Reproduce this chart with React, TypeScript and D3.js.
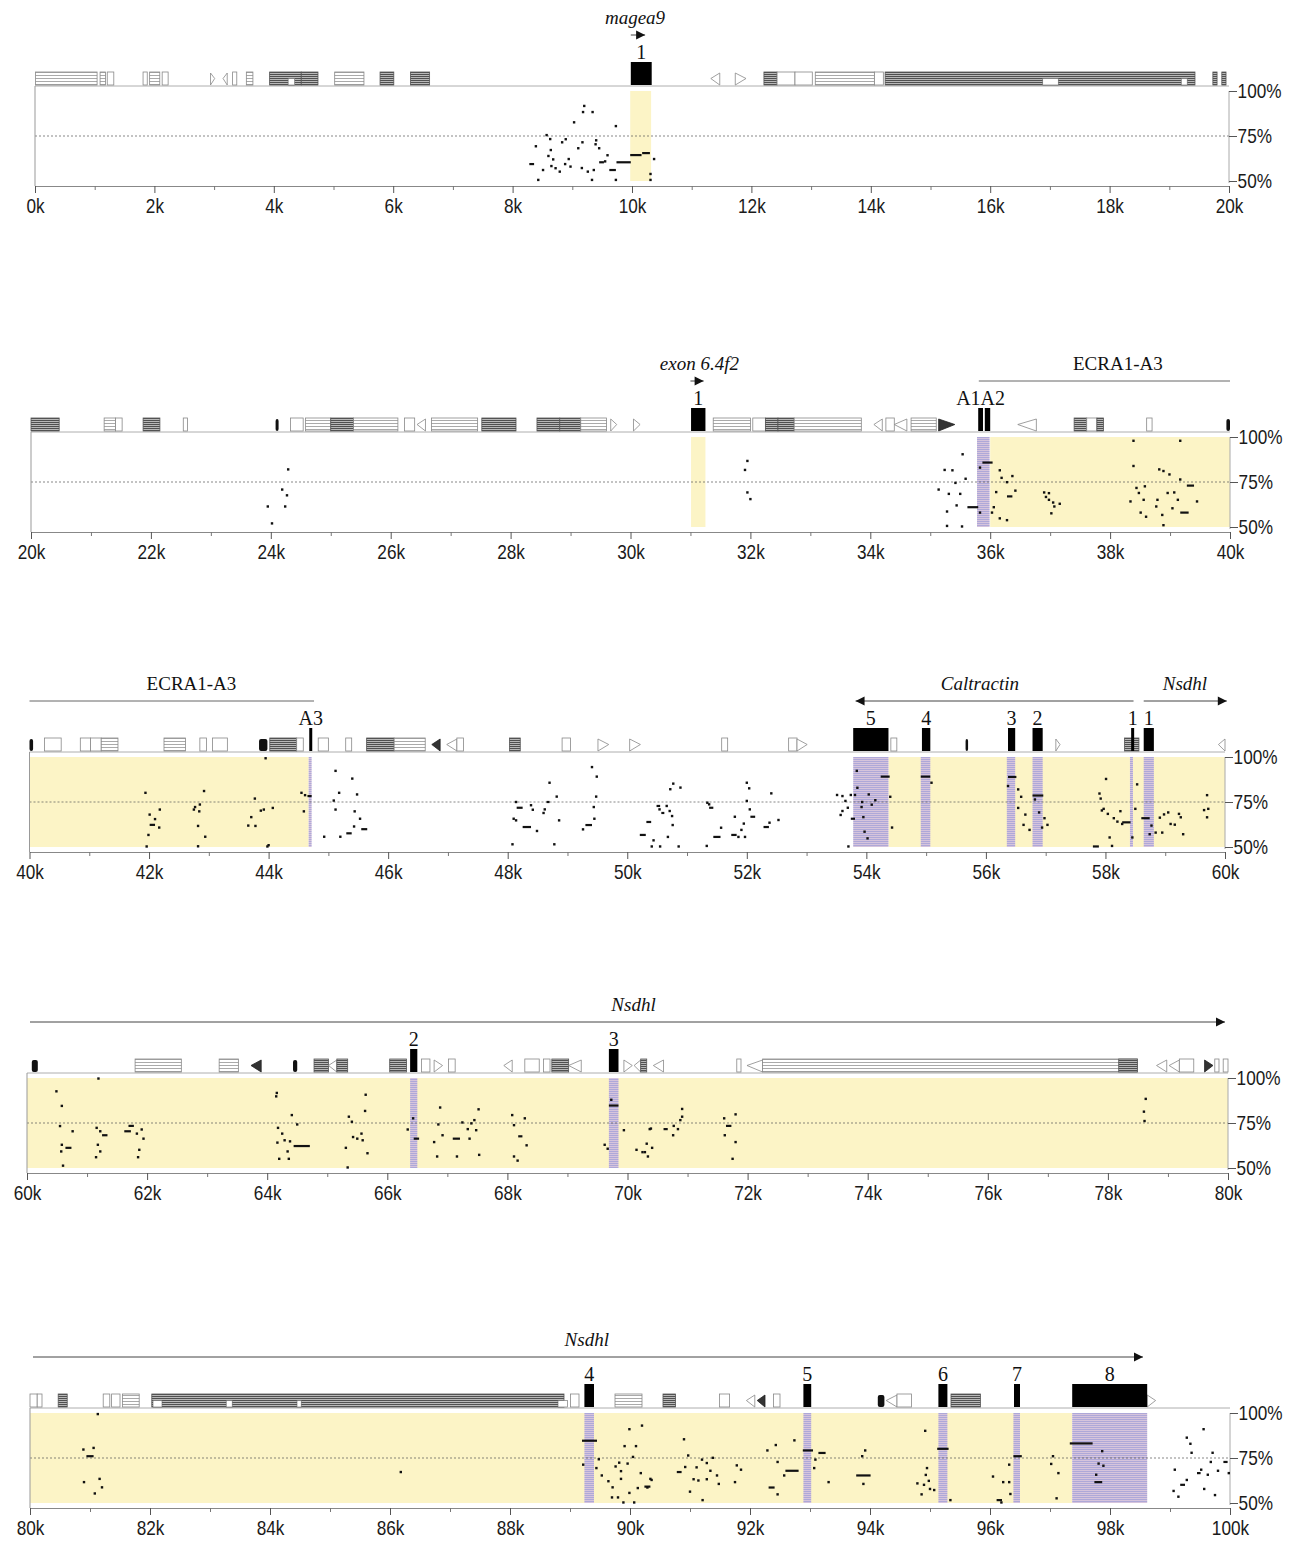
import React, { useEffect, useRef } from 'react';
import * as d3 from 'd3';

// five 20 kb rows
const panelStarts = [0, 20, 40, 60, 80];
const panelTop = [91, 437, 757, 1078, 1413];
const panelLeft = [35, 31, 29.5, 27, 30];
const panelRight = [1229, 1230, 1225, 1228, 1230];

const pctTicks = [100, 75, 50];

// exons: [startKb, endKb, label]
const exons: [number, number, string][] = [
  [9.98, 10.33, '1'], [31.01, 31.25, '1'], [35.80, 35.88, 'A1A2'], [35.91, 36.0, ''],
  [44.68, 44.73, 'A3'], [53.78, 54.37, '5'], [54.93, 55.07, '4'], [56.37, 56.49, '3'],
  [56.78, 56.95, '2'], [58.43, 58.48, '1'], [58.64, 58.81, '1'], [66.38, 66.50, '2'],
  [69.69, 69.85, '3'], [89.24, 89.40, '4'], [92.89, 93.02, '5'], [95.14, 95.29, '6'],
  [96.40, 96.50, '7'], [97.37, 98.62, '8'],
];

// conserved coding (purple) and non-coding (yellow) regions
const codingCns: [number, number][] = [
  [35.78, 35.99], [44.67, 44.72], [53.78, 54.37], [54.91, 55.07], [56.35, 56.49],
  [56.78, 56.95], [58.41, 58.46], [58.64, 58.81], [66.38, 66.50], [69.69, 69.85],
  [89.24, 89.40], [92.89, 93.02], [95.14, 95.29], [96.39, 96.50], [97.37, 98.62],
];
const noncodingCns: [number, number][] = [
  [9.97, 10.32], [31.01, 31.25], [36.0, 40.0], [40.0, 44.67], [54.37, 58.41],
  [58.46, 60.0], [60.0, 80.0], [80.0, 97.37],
];

// repeat track: d dark hatched, l light hatched, o open, w white inset, b black, tl/tr triangles, tlb/trb filled
const repeats: [number, number, string][] = [
  [0.01, 1.04, 'l'], [1.09, 1.18, 'l'], [1.21, 1.32, 'o'], [1.81, 1.88, 'o'], [1.92, 2.09, 'l'],
  [2.13, 2.23, 'o'], [2.94, 3.01, 'tr'], [3.15, 3.22, 'tl'], [3.31, 3.38, 'o'], [3.54, 3.65, 'l'],
  [3.93, 4.46, 'd'], [4.24, 4.35, 'w'], [4.46, 4.74, 'd'], [5.02, 5.51, 'l'], [5.78, 6.01, 'd'],
  [6.29, 6.61, 'd'], [11.32, 11.47, 'tl'], [11.73, 11.91, 'tr'], [12.21, 12.43, 'd'],
  [12.43, 12.73, 'o'], [12.73, 13.02, 'o'], [13.07, 14.06, 'l'], [14.06, 14.21, 'o'],
  [14.24, 19.43, 'd'], [16.88, 17.14, 'w'], [19.20, 19.30, 'w'], [19.73, 19.80, 'd'], [19.88, 19.95, 'd'],

  [20.0, 20.47, 'd'], [21.22, 21.41, 'l'], [21.41, 21.52, 'o'], [21.87, 22.15, 'd'], [22.54, 22.61, 'o'],
  [24.08, 24.13, 'b'], [24.33, 24.54, 'o'], [24.58, 25.0, 'l'], [25.0, 25.38, 'd'], [25.38, 26.12, 'l'],
  [26.23, 26.40, 'o'], [26.44, 26.58, 'tl'], [26.68, 27.45, 'l'], [27.52, 28.09, 'd'], [28.44, 28.82, 'd'],
  [28.82, 29.17, 'd'], [29.17, 29.60, 'l'], [29.67, 29.77, 'tr'], [30.05, 30.16, 'tr'], [31.38, 32.0, 'l'],
  [32.04, 32.25, 'o'], [32.25, 32.46, 'd'], [32.46, 32.73, 'd'], [32.73, 33.85, 'l'], [34.06, 34.20, 'tl'],
  [34.26, 34.40, 'o'], [34.40, 34.61, 'tl'], [34.68, 35.10, 'l'], [35.14, 35.41, 'trb'], [36.46, 36.77, 'tl'],
  [37.40, 37.61, 'd'], [37.61, 37.78, 'o'], [37.78, 37.89, 'd'], [38.61, 38.70, 'o'], [39.94, 40.0, 'b'],

  [40.0, 40.06, 'b'], [40.25, 40.53, 'o'], [40.85, 41.02, 'o'], [41.02, 41.20, 'o'], [41.20, 41.48, 'l'],
  [42.25, 42.61, 'l'], [42.85, 42.96, 'o'], [43.06, 43.31, 'o'], [43.84, 43.98, 'b'], [44.02, 44.47, 'd'],
  [44.47, 44.58, 'o'], [44.83, 45.0, 'o'], [45.29, 45.39, 'o'], [45.64, 46.10, 'd'], [46.10, 46.62, 'l'],
  [46.73, 46.87, 'tlb'], [46.98, 47.15, 'tl'], [47.15, 47.26, 'o'], [48.03, 48.21, 'd'], [48.91, 49.05, 'o'],
  [49.51, 49.69, 'tr'], [50.04, 50.22, 'tr'], [51.58, 51.68, 'o'], [52.70, 52.84, 'o'], [52.84, 53.01, 'tr'],
  [54.41, 54.51, 'o'], [55.66, 55.69, 'b'], [57.17, 57.24, 'tr'], [58.32, 58.56, 'd'], [59.89, 60.0, 'tl'],

  [60.08, 60.18, 'b'], [61.80, 62.57, 'l'], [63.20, 63.52, 'l'], [63.73, 63.90, 'tlb'], [64.43, 64.50, 'b'],
  [64.78, 65.02, 'd'], [65.02, 65.16, 'tl'], [65.16, 65.34, 'd'], [66.04, 66.32, 'd'], [66.57, 66.71, 'o'],
  [66.78, 66.92, 'tr'], [67.02, 67.13, 'o'], [67.94, 68.08, 'tl'], [68.29, 68.53, 'o'], [68.60, 68.71, 'o'],
  [68.74, 69.02, 'd'], [69.02, 69.23, 'tl'], [69.94, 70.08, 'tr'], [70.11, 70.22, 'tl'], [70.22, 70.32, 'd'],
  [70.43, 70.60, 'tl'], [71.82, 71.89, 'o'], [71.99, 72.25, 'tl'], [72.25, 78.49, 'l'], [78.18, 78.49, 'd'],
  [78.81, 78.98, 'tl'], [79.02, 79.19, 'tl'], [79.19, 79.43, 'o'], [79.61, 79.75, 'trb'], [79.78, 79.85, 'o'],
  [79.92, 80.0, 'o'],

  [80.0, 80.12, 'o'], [80.12, 80.20, 'o'], [80.47, 80.62, 'd'], [81.22, 81.33, 'o'], [81.36, 81.50, 'o'],
  [81.54, 81.82, 'l'], [82.03, 88.90, 'd'], [82.05, 82.20, 'w'], [83.27, 83.37, 'w'], [84.45, 84.52, 'w'],
  [88.80, 88.96, 'w'], [89.01, 89.15, 'o'], [89.75, 90.20, 'l'], [90.55, 90.76, 'd'], [91.49, 91.66, 'o'],
  [91.94, 92.08, 'tl'], [92.12, 92.25, 'tlb'], [92.39, 92.50, 'o'], [94.13, 94.24, 'b'], [94.27, 94.45, 'tl'],
  [94.45, 94.69, 'o'], [95.35, 95.84, 'd'], [98.62, 98.76, 'tr'],
];

// gene / element annotations: [startKb, endKb, label, direction, labelKb, italic]
const genes: [number, number, string, string, number, boolean][] = [
  [9.98, 10.22, 'magea9', 'right', 10.05, true],
  [31.0, 31.22, 'exon 6.4f2', 'right', 31.15, true],
  [35.81, 40.0, 'ECRA1-A3', 'none', 38.13, false],
  [40.0, 44.76, 'ECRA1-A3', 'none', 42.71, false],
  [53.82, 58.47, 'Caltractin', 'left', 55.9, true],
  [58.64, 60.03, 'Nsdhl', 'right', 59.33, true],
  [60.05, 79.95, 'Nsdhl', 'right', 70.1, true],
  [80.05, 98.55, 'Nsdhl', 'right', 89.28, true],
];

// percent identity, single windows: [kb, %]
const dots: [number, number][] = [
  [9.20, 91.7], [9.18, 88.3], [9.34, 88.3], [9.03, 82.6], [9.73, 80.5], [8.57, 75.5], [8.63, 73.3],
  [8.89, 73.2], [8.83, 71.5], [8.39, 69.3], [9.17, 71.5], [9.40, 72.6], [9.39, 70.4], [9.10, 68.2],
  [9.45, 68.2], [8.64, 67.2], [8.60, 63.9], [8.68, 62.0], [8.94, 62.2], [9.59, 64.3], [9.55, 60.9],
  [8.65, 58.3], [8.88, 59.4], [8.97, 58.0], [8.72, 57.1], [8.79, 55.2], [8.51, 56.1], [9.16, 57.2],
  [9.26, 55.2], [9.36, 56.1], [8.43, 50.6], [9.33, 50.6], [9.73, 50.6], [10.37, 62.2], [10.31, 53.9],
  [10.31, 50.6],

  [24.29, 82.0], [24.19, 70.8], [24.27, 67.6], [23.95, 61.4], [24.24, 61.4], [24.02, 52.0],
  [31.95, 86.7], [31.91, 81.7], [31.95, 69.2], [32.00, 65.5],
  [35.54, 90.4], [35.24, 81.7], [35.37, 81.5], [35.59, 76.8], [35.14, 70.8], [35.31, 68.4], [35.42, 74.5],
  [35.50, 68.4], [35.44, 62.0], [35.28, 58.6], [35.28, 50.6], [35.53, 50.3],
  [35.83, 83.0], [35.83, 58.0], [36.03, 58.0], [36.16, 81.5], [36.19, 77.3], [36.37, 78.3], [36.10, 69.4],
  [36.28, 74.9], [36.42, 70.2], [36.16, 54.8], [36.28, 53.8], [36.06, 61.0],
  [36.90, 69.2], [36.98, 68.8], [36.93, 66.7], [36.98, 65.1], [37.05, 63.6], [37.07, 61.4], [37.16, 62.9],
  [37.02, 57.6],
  [38.39, 97.9], [38.39, 83.9], [38.44, 71.7], [38.48, 68.9], [38.34, 64.2], [38.58, 72.6], [38.56, 65.1],
  [38.51, 58.0], [38.60, 55.7], [38.82, 82.0], [38.89, 81.1], [38.99, 79.2], [38.79, 65.1], [38.77, 61.4],
  [38.87, 56.7], [38.96, 68.9], [39.07, 69.2], [39.13, 65.1], [39.17, 76.4], [38.89, 51.0], [39.04, 60.4],
  [39.45, 64.2], [39.17, 97.9],

  [41.94, 80.1], [42.18, 70.8], [42.01, 68.0], [42.10, 65.5], [42.17, 60.8], [41.99, 56.7], [41.96, 50.3],
  [42.92, 81.1], [42.85, 73.6], [42.77, 72.2], [42.75, 70.8], [42.84, 69.8], [42.82, 61.7], [42.94, 55.7],
  [42.82, 50.4], [43.77, 76.9], [43.92, 70.8], [43.87, 70.2], [44.07, 71.7], [43.71, 66.6], [43.66, 61.9],
  [43.78, 61.7], [43.95, 99.3], [44.00, 51.0], [43.98, 50.3], [44.55, 80.1], [44.61, 78.8], [44.59, 69.8],
  [45.12, 92.3], [45.40, 88.0], [45.18, 80.1], [45.48, 79.2], [45.09, 75.8], [45.12, 70.8], [45.44, 69.8],
  [45.53, 65.7], [45.43, 61.4], [45.20, 55.7], [44.93, 55.7],
  [48.08, 51.5], [48.10, 65.7], [48.14, 64.8], [48.14, 75.0], [48.39, 73.2], [48.42, 70.7], [48.49, 58.9],
  [48.62, 70.9], [48.60, 68.9], [48.70, 85.7], [48.78, 51.5], [48.82, 78.0], [48.86, 64.8],
  [49.41, 94.4], [49.49, 89.1], [49.48, 78.0], [49.44, 72.2], [49.45, 65.7], [49.26, 59.8],
  [50.44, 53.7], [50.41, 50.2], [50.54, 70.9], [50.66, 72.8], [50.72, 82.1], [50.77, 85.2], [50.89, 83.0],
  [50.71, 70.0], [50.75, 67.2], [50.76, 62.2], [50.68, 55.6], [50.86, 50.2], [50.55, 50.2],
  [51.34, 74.6], [51.37, 73.7], [51.33, 50.6], [51.57, 60.7], [51.80, 66.8], [51.86, 55.6], [51.91, 59.5],
  [51.95, 63.0], [52.00, 85.7], [52.04, 82.6], [52.00, 75.6], [52.05, 70.9], [51.97, 55.6], [52.41, 79.8],
  [52.38, 63.5], [52.53, 65.0],
  [53.51, 78.9], [53.60, 78.3], [53.74, 78.9], [53.81, 78.9], [53.65, 75.6], [53.69, 71.8], [53.60, 70.0],
  [53.57, 67.8], [53.70, 50.3], [53.93, 75.0], [53.84, 92.3], [53.85, 82.9], [54.04, 79.2], [54.15, 76.0],
  [53.92, 72.2], [54.09, 73.5], [53.95, 66.6], [53.97, 58.5], [54.02, 54.8], [54.40, 77.9], [54.43, 60.8],
  [55.09, 85.7], [56.37, 83.9], [56.54, 82.0], [56.59, 77.9], [56.54, 71.7], [56.66, 68.0], [56.63, 62.3],
  [56.73, 59.5], [56.82, 76.4], [56.89, 69.2], [56.98, 66.0], [57.03, 62.3], [56.94, 60.8],
  [58.01, 87.8], [57.90, 79.7], [57.92, 76.9], [57.97, 71.2], [57.94, 70.3], [58.04, 68.4], [58.25, 69.9],
  [58.14, 66.0], [58.20, 64.1], [58.28, 62.8], [58.07, 55.3], [58.11, 50.6],
  [58.53, 84.8], [58.50, 71.2], [58.45, 55.3], [58.77, 61.9], [58.74, 57.1], [58.84, 58.0], [58.91, 66.3],
  [58.98, 68.1], [59.05, 69.2], [59.09, 62.8], [58.95, 58.0], [59.16, 62.4], [59.23, 68.4], [59.26, 66.5],
  [59.30, 57.1], [59.65, 70.5], [59.70, 66.5], [59.70, 78.8], [59.72, 71.2],

  [60.49, 92.6], [60.58, 84.5], [60.55, 73.3], [60.57, 59.2], [60.58, 62.9], [60.60, 51.3], [60.76, 70.4],
  [61.16, 72.3], [61.22, 70.4], [61.18, 62.9], [61.22, 59.2], [61.15, 56.0], [61.19, 99.7], [61.83, 69.1],
  [61.91, 71.4], [61.94, 66.3], [61.87, 60.1], [61.85, 56.0],
  [64.16, 91.7], [64.15, 89.8], [64.18, 72.3], [64.25, 69.1], [64.29, 65.4], [64.17, 64.1], [64.38, 64.8],
  [64.34, 59.2], [64.20, 55.1], [64.36, 55.1], [64.50, 74.2], [64.41, 79.4],
  [65.64, 90.7], [65.63, 81.7], [65.36, 78.5], [65.41, 75.7], [65.43, 67.2], [65.50, 66.3], [65.57, 69.1],
  [65.59, 65.4], [65.31, 61.2], [65.67, 58.2], [65.34, 50.2], [66.34, 71.4], [66.43, 77.6],
  [66.88, 83.6], [66.85, 74.2], [66.92, 68.2], [66.78, 64.4], [66.83, 56.4], [67.16, 56.4], [67.25, 75.3],
  [67.34, 71.6], [67.40, 74.8], [67.45, 76.6], [67.48, 71.0], [67.37, 66.3], [67.52, 82.6], [67.53, 57.3],
  [68.08, 79.4], [68.29, 77.6], [68.11, 73.8], [68.32, 62.6], [68.11, 56.4], [68.17, 54.1],
  [69.73, 87.9], [69.62, 62.9], [69.67, 60.7], [69.94, 71.0], [70.15, 60.1], [70.39, 71.9], [70.32, 63.5],
  [70.25, 58.8], [70.34, 56.4], [70.29, 58.8], [70.41, 61.2], [70.37, 71.6],
  [70.76, 68.2], [70.77, 73.4], [70.84, 71.6], [70.88, 76.6], [70.91, 78.5], [70.91, 82.8],
  [71.61, 77.6], [71.80, 79.8], [71.62, 68.2], [71.80, 64.4], [71.75, 55.1],
  [78.63, 88.4], [78.60, 81.3], [78.61, 76.1],

  [80.89, 79.7], [81.06, 80.6], [80.90, 61.6], [81.16, 63.4], [81.20, 58.7], [81.08, 55.3], [81.13, 99.4],
  [86.18, 67.2],
  [89.22, 71.3], [89.44, 69.4], [89.48, 74.3], [89.53, 65.3], [89.64, 62.1], [89.76, 70.3], [89.82, 72.4],
  [89.96, 71.9], [89.85, 67.7], [89.71, 58.7], [89.70, 53.1], [89.80, 53.1], [89.85, 63.4], [89.89, 50.3],
  [89.99, 55.6], [90.07, 50.3], [90.05, 75.6], [89.91, 81.6], [90.10, 81.6], [89.99, 91.0], [90.20, 93.0],
  [90.18, 66.6], [90.13, 58.3], [90.34, 63.4], [90.29, 58.6], [90.36, 62.8],
  [90.90, 85.4], [90.97, 76.4], [90.92, 70.0], [91.11, 69.8], [91.20, 74.1], [91.28, 72.2], [91.06, 63.2],
  [91.28, 63.2], [91.34, 67.9], [91.45, 65.3], [91.48, 60.6], [91.14, 62.5], [91.00, 56.3], [91.21, 51.6],
  [91.38, 75.1], [91.78, 70.9], [91.85, 68.5], [91.75, 61.6],
  [92.29, 79.2], [92.43, 82.2], [92.46, 72.8], [92.46, 54.8], [92.57, 65.3], [92.74, 84.8],
  [93.09, 74.1], [93.07, 69.4], [93.31, 61.6], [93.87, 76.0], [93.92, 79.2], [93.89, 60.6],
  [94.92, 90.1], [94.95, 69.4], [94.93, 65.6], [94.98, 62.3], [94.79, 60.9], [94.90, 60.1], [95.00, 57.8],
  [95.07, 57.2], [94.86, 54.8], [95.34, 51.6],
  [96.05, 64.7], [96.22, 61.6], [96.32, 61.6], [96.34, 55.0], [96.32, 71.3], [96.19, 50.3],
  [97.05, 76.0], [97.02, 71.7], [97.14, 66.6], [97.11, 52.6],
  [97.89, 70.7], [97.81, 71.9], [97.77, 65.7], [97.87, 78.8],
  [99.08, 68.5], [99.06, 56.7], [99.14, 53.5], [99.28, 86.3], [99.34, 82.9], [99.36, 77.9], [99.28, 62.8],
  [99.56, 91.0], [99.52, 68.5], [99.63, 65.7], [99.57, 57.8], [99.71, 77.9], [99.68, 72.8], [99.80, 67.9],
  [99.98, 66.6], [99.75, 54.4],
];

// percent identity, longer windows drawn as dashes: [startKb, endKb, %]
const dashes: [number, number, number][] = [
  [9.45, 9.53, 60.4], [8.28, 8.36, 59.4], [9.62, 9.73, 56.1], [9.74, 9.98, 60.4], [9.97, 10.16, 64.4],
  [10.17, 10.30, 65.5],
  [35.62, 35.80, 61.0], [35.87, 36.04, 85.8], [36.28, 36.37, 67.0], [39.17, 39.31, 58.0], [39.28, 39.40, 73.0],
  [42.01, 42.10, 62.3], [44.65, 44.72, 78.3], [45.55, 45.65, 59.9], [45.30, 45.39, 57.6], [48.15, 48.25, 71.8],
  [48.25, 48.39, 61.1], [48.65, 48.69, 75.0], [49.30, 49.41, 62.2], [50.21, 50.31, 56.7], [50.32, 50.40, 63.9],
  [50.49, 50.55, 72.8], [50.57, 50.62, 68.9], [51.37, 51.44, 71.8], [51.44, 51.56, 55.6], [51.74, 51.83, 56.7],
  [52.06, 52.14, 66.8], [52.28, 52.37, 61.1], [53.74, 53.81, 65.7], [54.24, 54.39, 89.1], [54.91, 55.07, 89.1],
  [56.37, 56.51, 88.9], [56.78, 56.96, 78.6], [58.28, 58.42, 63.7], [57.79, 57.89, 50.3], [58.60, 58.74, 66.0],
  [60.64, 60.74, 61.2], [61.25, 61.34, 68.2], [61.62, 61.73, 70.4], [61.69, 61.78, 73.4], [64.44, 64.71, 62.2],
  [66.44, 66.53, 66.3], [67.09, 67.21, 66.3], [68.18, 68.25, 67.6], [69.69, 69.85, 84.7], [70.60, 70.67, 71.6],
  [71.64, 71.73, 73.4],
  [80.94, 81.06, 76.0], [89.20, 89.45, 84.6], [90.24, 90.34, 59.1], [90.78, 90.86, 67.2], [92.31, 92.41, 58.6],
  [92.59, 92.81, 67.9], [92.88, 93.05, 79.2], [93.14, 93.26, 77.8], [93.77, 94.01, 65.3], [95.12, 95.31, 80.1],
  [96.11, 96.20, 51.6], [96.39, 96.53, 76.0], [97.33, 97.71, 83.1], [97.74, 97.87, 61.6], [99.17, 99.25, 60.1],
  [99.45, 99.51, 66.6], [99.89, 99.96, 72.8],
];

const SANS = '"Liberation Sans", Arial, sans-serif';
const SERIF = '"Liberation Serif", "Times New Roman", serif';

const App = () => {
  const svgRef = useRef<SVGSVGElement>(null);

  useEffect(() => {
    if (!svgRef.current) return;
    const svg = d3.select(svgRef.current);
    svg.selectAll('*').remove();

    // textures for the repeat glyphs and the coding bands
    const defs = svg.append('defs');
    const dark = defs.append('pattern').attr('id', 'hatchDark')
      .attr('patternUnits', 'userSpaceOnUse').attr('width', 4).attr('height', 2);
    dark.append('rect').attr('width', 4).attr('height', 2).attr('fill', '#b8b8b8');
    dark.append('rect').attr('width', 4).attr('height', 1).attr('fill', '#505050');
    const light = defs.append('pattern').attr('id', 'hatchLight')
      .attr('patternUnits', 'userSpaceOnUse').attr('width', 4).attr('height', 3);
    light.append('rect').attr('width', 4).attr('height', 3).attr('fill', '#fff');
    light.append('rect').attr('width', 4).attr('height', 1).attr('fill', '#aaa');
    const purple = defs.append('pattern').attr('id', 'codingTex')
      .attr('patternUnits', 'userSpaceOnUse').attr('width', 3).attr('height', 2);
    purple.append('rect').attr('width', 3).attr('height', 2).attr('fill', '#aea8d8');
    purple.append('rect').attr('width', 3).attr('height', 1).attr('fill', '#d6c4dc');

    const panelOf = (kb: number) => Math.min(4, Math.floor(kb / 20));

    panelStarts.forEach((start, p) => {
      const y0 = panelTop[p];
      const xl = panelLeft[p], xr = panelRight[p];
      const x = d3.scaleLinear().domain([start, start + 20]).range([xl, xr]);
      const y = d3.scaleLinear().domain([50, 100]).range([y0 + 90, y0]);
      const mine = <T extends any[]>(arr: T[]) => arr.filter(d => panelOf(d[0] as number) === p);
      const g = svg.append('g');

      // shaded conserved regions
      g.selectAll('rect.ncr').data(mine(noncodingCns)).join('rect')
        .attr('x', d => x(d[0])).attr('width', d => x(d[1]) - x(d[0]))
        .attr('y', y(100)).attr('height', y(50) - y(100))
        .attr('fill', '#fcf4c6');
      g.selectAll('rect.cds').data(mine(codingCns)).join('rect')
        .attr('x', d => x(d[0])).attr('width', d => Math.max(2.5, x(d[1]) - x(d[0])))
        .attr('y', y(100)).attr('height', y(50) - y(100))
        .attr('fill', 'url(#codingTex)');

      // 75% reference line
      g.append('line')
        .attr('x1', xl).attr('x2', xr).attr('y1', y(75)).attr('y2', y(75))
        .attr('stroke', '#555').attr('stroke-width', 0.7).attr('stroke-dasharray', '2,2');

      // frame sides
      g.append('line').attr('x1', xl).attr('x2', xl).attr('y1', y0 - 5).attr('y2', y0 + 95)
        .attr('stroke', '#999').attr('stroke-width', 1);
      g.append('line').attr('x1', xr).attr('x2', xr).attr('y1', y0).attr('y2', y0 + 92)
        .attr('stroke', '#aaa').attr('stroke-width', 1);

      // identity points
      g.selectAll('rect.dot').data(mine(dots)).join('rect')
        .attr('x', d => x(d[0]) - 1.2).attr('y', d => y(Math.max(50.3, d[1])) - 1.2)
        .attr('width', 2.4).attr('height', 2.4).attr('fill', '#111');
      g.selectAll('rect.dash').data(mine(dashes)).join('rect')
        .attr('x', d => x(d[0])).attr('width', d => Math.max(3, x(d[1]) - x(d[0])))
        .attr('y', d => y(Math.max(50.3, d[2])) - 1.1).attr('height', 2.2).attr('fill', '#111');

      // repeat track baseline
      g.append('line').attr('x1', xl).attr('x2', xr).attr('y1', y0 - 5).attr('y2', y0 - 5)
        .attr('stroke', '#999').attr('stroke-width', 0.8);

      const top = y0 - 19, bot = y0 - 6, mid = (top + bot) / 2;
      mine(repeats).forEach(([a, b, t]) => {
        const x0 = x(a as number), x1 = Math.max(x(b as number), x(a as number) + 2.5);
        if (t === 'd' || t === 'l' || t === 'o') {
          g.append('rect').attr('x', x0).attr('y', top).attr('width', x1 - x0).attr('height', bot - top)
            .attr('fill', t === 'd' ? 'url(#hatchDark)' : t === 'l' ? 'url(#hatchLight)' : '#fff')
            .attr('stroke', t === 'd' ? '#555' : '#888').attr('stroke-width', 0.8);
        } else if (t === 'w') {
          g.append('rect').attr('x', x0).attr('y', mid).attr('width', x1 - x0).attr('height', bot - mid)
            .attr('fill', '#fff').attr('stroke', '#666').attr('stroke-width', 0.6);
        } else if (t === 'b') {
          g.append('rect').attr('x', x0).attr('y', top + 1).attr('width', x1 - x0).attr('height', bot - top - 1)
            .attr('rx', 2).attr('fill', '#111');
        } else {
          const left = t.startsWith('tl');
          const pts = left
            ? [[x1, top + 1], [x0, mid], [x1, bot]]
            : [[x0, top + 1], [x1, mid], [x0, bot]];
          g.append('path').attr('d', d3.line()(pts as [number, number][]) + 'Z')
            .attr('fill', t.endsWith('b') ? '#333' : '#fff')
            .attr('stroke', t.endsWith('b') ? '#222' : '#888').attr('stroke-width', 0.8);
        }
      });

      // exons
      const ex = mine(exons);
      g.selectAll('rect.exon').data(ex).join('rect')
        .attr('x', d => x(d[0])).attr('width', d => Math.max(3, x(d[1]) - x(d[0])))
        .attr('y', y0 - 29).attr('height', 23).attr('fill', '#000');
      g.selectAll('text.exon').data(ex.filter(d => d[2] !== '')).join('text')
        .attr('x', d => (x(d[0]) + x(d[1])) / 2).attr('y', y0 - 32)
        .attr('text-anchor', 'middle').attr('font-family', SERIF).attr('font-size', 20)
        .attr('fill', '#111').text(d => d[2]);

      // gene arrows and names
      mine(genes).forEach(([a, b, name, dir, lk, it]) => {
        const gy = y0 - 56;
        const xa = x(a as number), xb = x(b as number);
        g.append('line').attr('x1', xa).attr('x2', xb).attr('y1', gy).attr('y2', gy)
          .attr('stroke', dir === 'none' ? '#666' : '#444').attr('stroke-width', 1);
        if (dir === 'right') {
          g.append('path').attr('d', `M${xb},${gy}l-9,-4.5v9Z`).attr('fill', '#111');
        } else if (dir === 'left') {
          g.append('path').attr('d', `M${xa},${gy}l9,-4.5v9Z`).attr('fill', '#111');
        }
        g.append('text').attr('x', x(lk as number)).attr('y', y0 - 67)
          .attr('text-anchor', 'middle').attr('font-family', SERIF).attr('font-size', 19)
          .attr('font-style', it ? 'italic' : 'normal').attr('fill', '#111')
          .text(name as string);
      });

      // x axis: minor ticks every kb, labelled ticks every 2 kb
      const minor = g.append('g').attr('transform', `translate(0,${y0 + 95})`)
        .call(d3.axisBottom(x).tickValues(d3.range(start + 1, start + 20, 2)).tickSize(4).tickSizeOuter(0).tickFormat(() => ''));
      minor.select('.domain').attr('stroke', '#888');
      minor.selectAll('.tick line').attr('stroke', '#777');
      const major = g.append('g').attr('transform', `translate(0,${y0 + 95})`)
        .call(d3.axisBottom(x).tickValues(d3.range(start, start + 21, 2)).tickSize(7).tickSizeOuter(0)
          .tickFormat(d => `${d}k`));
      major.select('.domain').remove();
      major.selectAll('.tick line').attr('stroke', '#555');
      major.selectAll('.tick text').attr('y', 13).attr('font-family', SANS).attr('font-size', 20)
        .attr('fill', '#1a1a1a').attr('transform', 'scale(0.86,1)');

      // right percent axis
      const ry = g.append('g').attr('transform', `translate(${xr},0)`)
        .call(d3.axisRight(y).tickValues(pctTicks).tickSize(8).tickSizeOuter(0).tickFormat(d => `${d}%`));
      ry.select('.domain').remove();
      ry.selectAll('.tick line').attr('stroke', '#555');
      ry.selectAll('.tick text').attr('x', 10).attr('font-family', SANS).attr('font-size', 20)
        .attr('fill', '#1a1a1a').attr('transform', 'scale(0.86,1)');
    });
  }, []);

  return (
    <svg ref={svgRef} width={1291} height={1543}
      style={{ position: 'absolute', left: 0, top: 0, background: '#fff' }} />
  );
};

export default App;
